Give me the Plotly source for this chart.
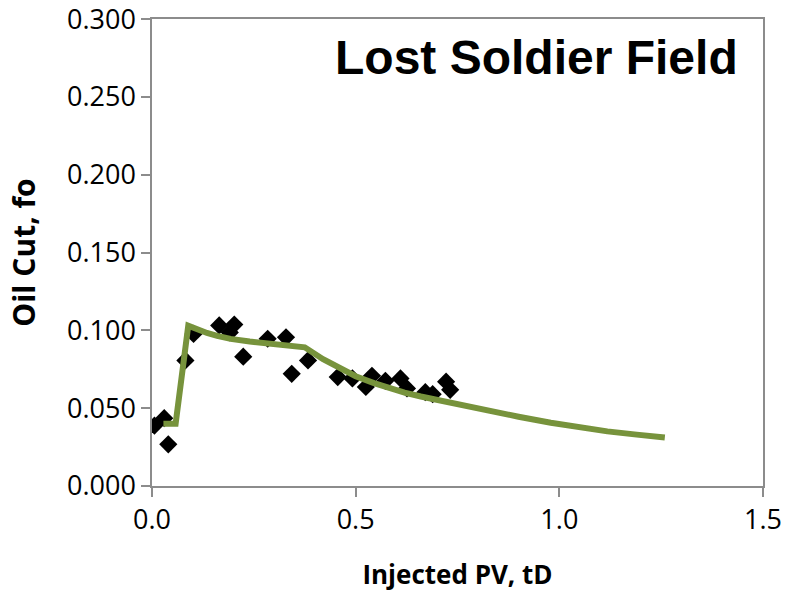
import plotly.graph_objects as go

# Observed data (Injected PV, Oil cut)
obs_x = [0.006, 0.030, 0.040, 0.082, 0.102, 0.165, 0.202, 0.191, 0.224, 0.284,
         0.329, 0.343, 0.383, 0.456, 0.492, 0.540, 0.525, 0.573, 0.610, 0.626,
         0.671, 0.689, 0.722, 0.732]
obs_y = [0.0388, 0.0436, 0.0268, 0.0807, 0.0977, 0.1032, 0.1037, 0.0987, 0.0831, 0.0946,
         0.0955, 0.0721, 0.0807, 0.0700, 0.0691, 0.0708, 0.0636, 0.0676, 0.0691, 0.0627,
         0.0603, 0.0590, 0.0670, 0.0618]

# Model curve
model_x = [0.028, 0.058, 0.089, 0.110, 0.135, 0.160, 0.193, 0.240, 0.283, 0.330, 0.375,
           0.420, 0.463, 0.500, 0.545, 0.580, 0.620, 0.660, 0.708, 0.760, 0.832,
           0.900, 0.979, 1.050, 1.118, 1.190, 1.259]
model_y = [0.0400, 0.0400, 0.1030, 0.1005, 0.0983, 0.0965, 0.0945, 0.0928, 0.0914, 0.0902, 0.0891,
           0.0815, 0.0750, 0.0705, 0.0661, 0.0630, 0.0600, 0.0575, 0.0548, 0.0518, 0.0479,
           0.0445, 0.0406, 0.0377, 0.0351, 0.0330, 0.0311]

x_ticks = [0.0, 0.5, 1.0, 1.5]
x_tick_labels = ["0.0", "0.5", "1.0", "1.5"]
y_ticks = [0.0, 0.05, 0.10, 0.15, 0.20, 0.25, 0.30]
y_tick_labels = ["0.000", "0.050", "0.100", "0.150", "0.200", "0.250", "0.300"]

fig = go.Figure()
fig.add_trace(go.Scatter(x=obs_x, y=obs_y, mode="markers",
                         marker=dict(symbol="diamond", size=14, color="black"),
                         showlegend=False))
fig.add_trace(go.Scatter(x=model_x, y=model_y, mode="lines",
                         line=dict(color="#77933C", width=6),
                         showlegend=False))

axis_common = dict(showgrid=False, zeroline=False, showline=True, linecolor="#8C8C8C",
                   linewidth=1.5, mirror=True, ticks="outside", ticklen=9,
                   tickcolor="#8C8C8C", tickwidth=1.5, automargin=False,
                   ticklabeloverflow="allow",
                   tickfont=dict(family="Open Sans", size=27, color="black"))

fig.update_xaxes(range=[0, 1.5], tickvals=x_ticks, ticktext=x_tick_labels,
                 title=dict(text="<b>Injected PV, tD</b>", standoff=30,
                            font=dict(family="Open Sans", size=26, color="black")),
                 **axis_common)
fig.update_yaxes(range=[0, 0.30005], tickvals=y_ticks, ticktext=y_tick_labels,
                 title=dict(text="<b>Oil Cut, fo</b>", standoff=22,
                            font=dict(family="Open Sans", size=30, color="black")),
                 **axis_common)

fig.add_annotation(text="<b>Lost Soldier Field</b>", xref="paper", yref="paper",
                   x=0.63, y=0.9165, xanchor="center", yanchor="middle", showarrow=False,
                   font=dict(family="Liberation Sans", size=48, color="black"))

fig.update_layout(width=787, height=593, plot_bgcolor="white", paper_bgcolor="white",
                  margin=dict(l=152, r=24, t=19, b=107))

fig.write_html("out.html")
